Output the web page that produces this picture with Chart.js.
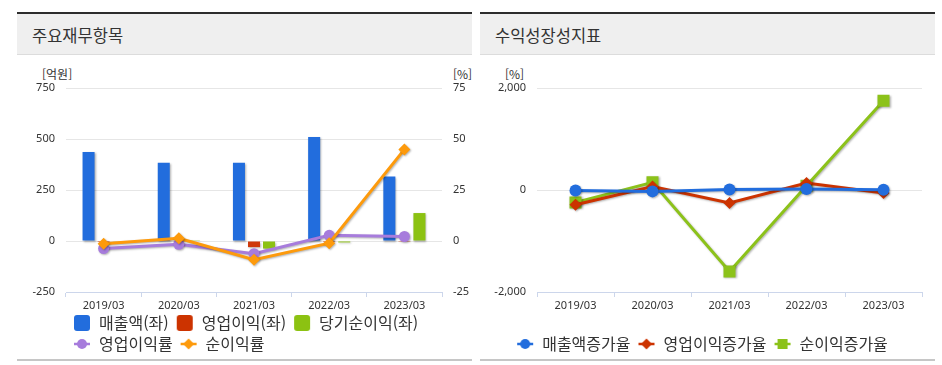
<!DOCTYPE html>
<html lang="ko">
<head>
<meta charset="utf-8">
<title>주요재무항목 / 수익성장성지표</title>
<script src="https://cdn.jsdelivr.net/npm/chart.js@4.4.0/dist/chart.umd.min.js"></script>
<style>
  html, body { margin:0; padding:0; background:#fff; }
  body { width:942px; height:365px; position:relative; overflow:hidden; font-family:"Noto Sans CJK KR", sans-serif; color:#333; }
  .panel { position:absolute; top:12px; height:345px; border-top:2px solid #2d2d2d; border-bottom:2px solid #c6c6c6; }
  .head { height:40px; line-height:42px; background:#efefef; border-bottom:1px solid #dcdcdc; padding-left:15px; font-size:16.5px; color:#333; }
  .unit { position:absolute; top:66px; font-size:12px; line-height:16px; color:#333; }
  canvas { position:absolute; top:55px; }
</style>
</head>
<body>
  <div class="panel" style="left:17px;width:455px"><div class="head">주요재무항목</div></div>
  <div class="panel" style="left:480px;width:455px"><div class="head">수익성장성지표</div></div>

  <span class="unit" style="left:42px">[억원]</span>
  <span class="unit" style="left:453px">[%]</span>
  <span class="unit" style="left:505px">[%]</span>

  <canvas id="finChart" width="453" height="307" style="left:17px"></canvas>
  <canvas id="growthChart" width="455" height="307" style="left:480px"></canvas>

<script>
// categories + series
const categories = ['2019/03', '2020/03', '2021/03', '2022/03', '2023/03'];

// 주요재무항목 (억원 / %)
const sales       = [436, 383, 383, 510, 316];
const opProfit    = [-5, -2, -30, -5, -4];
const netProfit   = [-3, 4, -37, -7, 137];
const opMargin    = [-3.7, -1.6, -6.2, 2.8, 2.2];
const netMargin   = [-1.3, 1.3, -9.2, -1.1, 44.9];
const leftTicks   = [-250, 0, 250, 500, 750];
const rightTicks  = [-25, 0, 25, 50, 75];

// 수익성장성지표 (%)
const salesGrowth = [-8, -27, 12, 20, 5];
const opGrowth    = [-290, 70, -255, 137, -59];
const netGrowth   = [-243, 150, -1596, 84, 1751];
const growthTicks = [-2000, 0, 2000];

const tickFont = { family: '"Noto Sans", sans-serif', size: 11 };
const legendFont = { family: '"Noto Sans CJK KR", sans-serif', size: 16 };

// small legend icons: image is centred at item x + 10, so symbols are drawn from x + 3
function legendIcon(kind, color) {
  const c = document.createElement('canvas');
  c.width = 24; c.height = 18;
  const g = c.getContext('2d');
  g.fillStyle = color; g.strokeStyle = color;
  if (kind === 'box') {
    g.beginPath();
    g.roundRect(5, 1, 16, 16, 3);
    g.fill();
    return c;
  }
  g.lineWidth = 2.5;
  g.beginPath(); g.moveTo(5, 9); g.lineTo(21, 9); g.stroke();
  g.beginPath();
  if (kind === 'circle') g.arc(13, 9, 5, 0, Math.PI * 2);
  if (kind === 'diamond') { g.moveTo(13, 3.5); g.lineTo(18.5, 9); g.lineTo(13, 14.5); g.lineTo(7.5, 9); g.closePath(); }
  if (kind === 'square') g.rect(8, 4, 10, 10);
  g.fill();
  return c;
}

function legendLabels(chart) {
  return chart.data.datasets.map((ds, i) => ({
    text: ds.label,
    pointStyle: legendIcon(ds.legendIcon, ds.borderColor),
    fillStyle: ds.borderColor,
    strokeStyle: ds.borderColor,
    lineWidth: 0,
    fontColor: '#333',
    hidden: !chart.isDatasetVisible(i),
    datasetIndex: i
  }));
}

// soft drop shadow under marks, like the original
const shadowPlugin = {
  id: 'shadow',
  beforeDatasetsDraw(chart) {
    const ctx = chart.ctx;
    ctx.save();
    ctx.shadowColor = 'rgba(0,0,0,0.3)';
    ctx.shadowOffsetX = 1;
    ctx.shadowOffsetY = 1;
    ctx.shadowBlur = 2;
  },
  afterDatasetsDraw(chart) { chart.ctx.restore(); }
};

const legendOpts = (fullSize) => ({
  position: 'bottom',
  fullSize,
  align: fullSize ? 'center' : 'start',
  labels: {
    usePointStyle: true,
    pointStyleWidth: 20,
    padding: 5,
    color: '#333',
    font: legendFont,
    generateLabels: legendLabels
  }
});

const xAxis = (height) => ({
  offset: true,
  grid: { display: true, offset: true, drawOnChartArea: false, drawTicks: true, tickLength: 5, color: '#ccd6eb' },
  border: { display: true, color: '#ccd6eb' },
  ticks: { color: '#333', font: tickFont, padding: 2, maxRotation: 0 },
  afterFit: (s) => { s.height = height; }
});

// -- 주요재무항목
new Chart(document.getElementById('finChart'), {
  type: 'bar',
  data: {
    labels: categories,
    datasets: [
      { label: '매출액(좌)', data: sales, backgroundColor: '#226ddd', borderColor: '#226ddd', legendIcon: 'box', order: 2 },
      { label: '영업이익(좌)', data: opProfit, backgroundColor: '#cf3a0b', borderColor: '#cc3300', legendIcon: 'box', order: 2 },
      { label: '당기순이익(좌)', data: netProfit, backgroundColor: '#8cc212', borderColor: '#8cc212', legendIcon: 'box', order: 2 },
      { type: 'line', label: '영업이익률', data: opMargin, yAxisID: 'y1', borderColor: '#a77cdc', backgroundColor: '#a77cdc',
        borderWidth: 3, pointStyle: 'circle', pointRadius: 5.5, pointBorderWidth: 0, legendIcon: 'circle', order: 1 },
      { type: 'line', label: '순이익률', data: netMargin, yAxisID: 'y1', borderColor: '#fd9a0c', backgroundColor: '#fd9a0c',
        borderWidth: 3, pointStyle: 'rectRot', pointRadius: 6, pointBorderWidth: 0, legendIcon: 'diamond', order: 0 }
    ]
  },
  options: {
    responsive: false,
    animation: false,
    devicePixelRatio: 1,
    layout: { padding: { top: 33, right: 0, left: 0, bottom: 0 } },
    datasets: { bar: { categoryPercentage: 0.6, barPercentage: 0.8 } },
    plugins: { legend: legendOpts(false), tooltip: { enabled: false } },
    scales: {
      x: xAxis(18),
      y: {
        min: leftTicks[0], max: leftTicks[leftTicks.length - 1],
        afterBuildTicks: (s) => { s.ticks = leftTicks.map(v => ({ value: v })); },
        grid: { color: '#e6e6e6', drawTicks: false },
        border: { display: false },
        ticks: { color: '#333', font: tickFont, padding: 11 },
        afterFit: (s) => { s.width = 49; }
      },
      y1: {
        position: 'right',
        min: rightTicks[0], max: rightTicks[rightTicks.length - 1],
        afterBuildTicks: (s) => { s.ticks = rightTicks.map(v => ({ value: v })); },
        grid: { drawOnChartArea: false, drawTicks: false },
        border: { display: false },
        ticks: { color: '#333', font: tickFont, padding: 11 },
        afterFit: (s) => { s.width = 28; }
      }
    }
  },
  plugins: [shadowPlugin]
});

// -- 수익성장성지표
new Chart(document.getElementById('growthChart'), {
  type: 'line',
  data: {
    labels: categories,
    datasets: [
      { label: '매출액증가율', data: salesGrowth, borderColor: '#226ddd', backgroundColor: '#226ddd',
        pointStyle: 'circle', pointRadius: 6, legendIcon: 'circle' },
      { label: '영업이익증가율', data: opGrowth, borderColor: '#cc3300', backgroundColor: '#cc3300',
        pointStyle: 'rectRot', pointRadius: 6, legendIcon: 'diamond' },
      { label: '순이익증가율', data: netGrowth, borderColor: '#8cc21a', backgroundColor: '#8cc21a',
        pointStyle: 'rect', pointRadius: 8.5, legendIcon: 'square' }
    ]
  },
  options: {
    responsive: false,
    animation: false,
    devicePixelRatio: 1,
    layout: { padding: { top: 33, right: 13, left: 0, bottom: 0 } },
    elements: { line: { borderWidth: 3, tension: 0 }, point: { borderWidth: 0 } },
    plugins: { legend: legendOpts(true), tooltip: { enabled: false } },
    scales: {
      x: xAxis(39),
      y: {
        min: growthTicks[0], max: growthTicks[growthTicks.length - 1],
        afterBuildTicks: (s) => { s.ticks = growthTicks.map(v => ({ value: v })); },
        grid: { color: '#e6e6e6', drawTicks: false },
        border: { display: false },
        ticks: { color: '#333', font: tickFont, padding: 11, callback: (v) => v.toLocaleString('en-US') },
        afterFit: (s) => { s.width = 57; }
      }
    }
  },
  plugins: [shadowPlugin]
});
</script>
</body>
</html>
